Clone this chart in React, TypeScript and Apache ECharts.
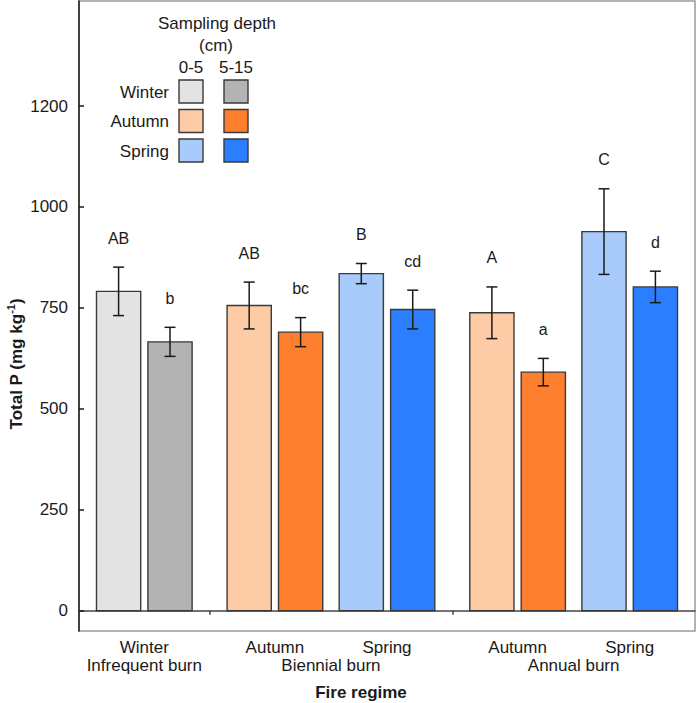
import React, { useEffect, useRef } from "react";
import * as echarts from "echarts";

// Fire regimes (outer grouping on the x axis) and the burn season of each treatment
const regimes = ["Infrequent burn", "Biennial burn", "Annual burn"];
const seasons = ["Winter", "Autumn", "Spring", "Autumn", "Spring"];
const seasonRegime = [0, 1, 1, 2, 2];

// Total P (mg/kg): mean and standard error per sampling depth
const mean0to5 = [791, 756, 835, 738, 939];
const se0to5 = [60, 58, 25, 64, 106];
const letters0to5 = ["AB", "AB", "B", "A", "C"];

const mean5to15 = [666, 690, 746, 591, 802];
const se5to15 = [36, 36, 48, 34, 39];
const letters5to15 = ["b", "bc", "cd", "a", "d"];

// y axis tick labels (the top tick is printed as 1200)
const yTickValues = [0, 250, 500, 750, 1000, 1250];
const yTickLabels = ["0", "250", "500", "750", "1000", "1200"];

const depthLabels = ["0-5", "5-15"];
const legendSeasons = ["Winter", "Autumn", "Spring"];

const seasonColors: Record<string, [string, string]> = {
  Winter: ["#e3e3e3", "#b3b3b3"],
  Autumn: ["#fdcba6", "#fe7f2d"],
  Spring: ["#a9cbfc", "#2b7ffe"],
};

const FONT = "'Liberation Sans', Arial, sans-serif";

// plot frame in pixels
const GRID = { left: 79, top: 1, right: 1, bottom: 72 };
const W = 696;
const H = 703;

// x layout in axis units: padding at regime edges, spacing between seasons,
// half-distance between the two depth bars, bar width
const EDGE_PAD = 1.27;
const SEASON_STEP = 2.18;
const DEPTH_HALF = 0.5;
const BAR_W = 0.86;

function buildLayout() {
  const centers: number[] = [];
  const regimeCenters: number[] = [];
  const separators: number[] = [];
  let x = 0;
  regimes.forEach((_, g) => {
    const start = x;
    const idx = seasonRegime.map((r, i) => (r === g ? i : -1)).filter((i) => i >= 0);
    x += EDGE_PAD;
    idx.forEach((i, k) => {
      centers[i] = x;
      if (k < idx.length - 1) x += SEASON_STEP;
    });
    x += EDGE_PAD;
    regimeCenters.push((start + x) / 2);
    if (g < regimes.length - 1) separators.push(x);
  });
  return { centers, regimeCenters, separators, total: x };
}

function labelAt(values: number[], names: string[]) {
  return (v: number) => {
    const i = values.findIndex((c) => Math.abs(c - v) < 1e-6);
    return i >= 0 ? names[i] : "";
  };
}

export default function App() {
  const ref = useRef<HTMLDivElement>(null);

  useEffect(() => {
    document.body.style.margin = "0";
    if (!ref.current) return;
    const chart = echarts.init(ref.current, undefined, { renderer: "svg" });
    const { centers, regimeCenters, separators, total } = buildLayout();

    const makeSeries = (depth: number, means: number[], ses: number[], letters: string[]) => ({
      type: "custom",
      name: depthLabels[depth] + " cm",
      xAxisIndex: 0,
      data: means.map((m, i) => [centers[i] + (depth === 0 ? -DEPTH_HALF : DEPTH_HALF), m, ses[i]]),
      encode: { x: 0, y: [1, 2] },
      renderItem: (params: any, api: any) => {
        const i = params.dataIndex;
        const x = api.value(0);
        const m = api.value(1);
        const se = api.value(2);
        const [xl, y0] = api.coord([x - BAR_W / 2, 0]);
        const [xr, yt] = api.coord([x + BAR_W / 2, m]);
        const [xc, yHi] = api.coord([x, m + se]);
        const [, yLo] = api.coord([x, m - se]);
        const cap = 5.5;
        const errStyle = { stroke: "#1a1a1a", lineWidth: 1.5 };
        return {
          type: "group",
          children: [
            {
              type: "rect",
              shape: { x: xl, y: yt, width: xr - xl, height: y0 - yt },
              style: { fill: seasonColors[seasons[i]][depth], stroke: "#3a3a3a", lineWidth: 1.4 },
            },
            { type: "line", shape: { x1: xc, y1: yLo, x2: xc, y2: yHi }, style: errStyle },
            { type: "line", shape: { x1: xc - cap, y1: yHi, x2: xc + cap, y2: yHi }, style: errStyle },
            { type: "line", shape: { x1: xc - cap, y1: yLo, x2: xc + cap, y2: yLo }, style: errStyle },
            {
              type: "text",
              x: xc,
              y: yHi - 29,
              style: {
                text: letters[i],
                fill: "#1a1a1a",
                font: `16px ${FONT}`,
                align: "center",
                verticalAlign: "middle",
              },
            },
          ],
        };
      },
    });

    const legendChildren: any[] = [
      { type: "text", x: 217, y: 23, style: { text: "Sampling depth", font: `17px ${FONT}`, fill: "#1a1a1a", align: "center", verticalAlign: "middle" } },
      { type: "text", x: 216, y: 45, style: { text: "(cm)", font: `17px ${FONT}`, fill: "#1a1a1a", align: "center", verticalAlign: "middle" } },
    ];
    const colX = [179, 224];
    depthLabels.forEach((d, c) => {
      legendChildren.push({
        type: "text",
        x: colX[c] + 12,
        y: 67,
        style: { text: d, font: `17px ${FONT}`, fill: "#1a1a1a", align: "center", verticalAlign: "middle" },
      });
    });
    const rowY = [80, 109.5, 139];
    legendSeasons.forEach((s, r) => {
      legendChildren.push({
        type: "text",
        x: 169,
        y: rowY[r] + 12,
        style: { text: s, font: `17px ${FONT}`, fill: "#1a1a1a", align: "right", verticalAlign: "middle" },
      });
      colX.forEach((cx, c) => {
        legendChildren.push({
          type: "rect",
          shape: { x: cx, y: rowY[r], width: 24, height: 23 },
          style: { fill: seasonColors[s][c], stroke: "#3a3a3a", lineWidth: 1.4 },
        });
      });
    });

    const axisText = { fontSize: 17, fontFamily: FONT, color: "#1a1a1a", lineHeight: 17 };

    chart.setOption({
      animation: false,
      backgroundColor: "#fff",
      grid: {
        show: false,
        ...GRID,
        containLabel: false,
        outerBoundsMode: "none",
      },
      xAxis: [
        {
          type: "value",
          min: 0,
          max: total,
          position: "bottom",
          splitLine: { show: false },
          axisLine: { show: true, lineStyle: { color: "#444", width: 1.5 } },
          axisTick: { show: true, customValues: separators, length: 4, lineStyle: { color: "#444", width: 1.5 } },
          axisLabel: {
            customValues: centers,
            formatter: labelAt(centers, seasons),
            margin: 8,
            ...axisText,
          },
        },
        {
          type: "value",
          min: 0,
          max: total,
          position: "bottom",
          splitLine: { show: false },
          axisLine: { show: false },
          axisTick: { show: false },
          axisLabel: {
            customValues: regimeCenters,
            formatter: labelAt(regimeCenters, regimes),
            margin: 26,
            ...axisText,
          },
        },
      ],
      yAxis: {
        type: "value",
        min: -50,
        max: 1510,
        splitLine: { show: false },
        axisLine: { show: true, lineStyle: { color: "#1a1a1a", width: 1.5 } },
        axisTick: { show: true, inside: true, length: 5, customValues: yTickValues, lineStyle: { color: "#1a1a1a", width: 1.5 } },
        axisLabel: {
          customValues: yTickValues,
          formatter: labelAt(yTickValues, yTickLabels),
          margin: 11,
          ...axisText,
        },
      },
      graphic: [
        {
          type: "rect",
          z: -10,
          shape: {
            x: GRID.left,
            y: GRID.top,
            width: W - GRID.left - GRID.right,
            height: H - GRID.top - GRID.bottom,
          },
          style: { fill: "none", stroke: "#9a9a9a", lineWidth: 1.5 },
        },
        { type: "group", children: legendChildren },
        {
          type: "text",
          x: 16,
          y: 364,
          rotation: Math.PI / 2,
          style: {
            text: "{b|Total P (mg kg}{s|-1}{b|)}",
            align: "center",
            verticalAlign: "middle",
            rich: {
              b: { font: `bold 17px ${FONT}`, fill: "#1a1a1a", lineHeight: 22 },
              s: { font: `bold 11px ${FONT}`, fill: "#1a1a1a", verticalAlign: "top", lineHeight: 22 },
            },
          },
        },
        {
          type: "text",
          x: 361,
          y: 692,
          style: { text: "Fire regime", font: `bold 17px ${FONT}`, fill: "#1a1a1a", align: "center", verticalAlign: "middle" },
        },
      ],
      series: [
        makeSeries(0, mean0to5, se0to5, letters0to5),
        makeSeries(1, mean5to15, se5to15, letters5to15),
      ],
    });

    return () => chart.dispose();
  }, []);

  return <div ref={ref} style={{ width: W, height: H }} />;
}
